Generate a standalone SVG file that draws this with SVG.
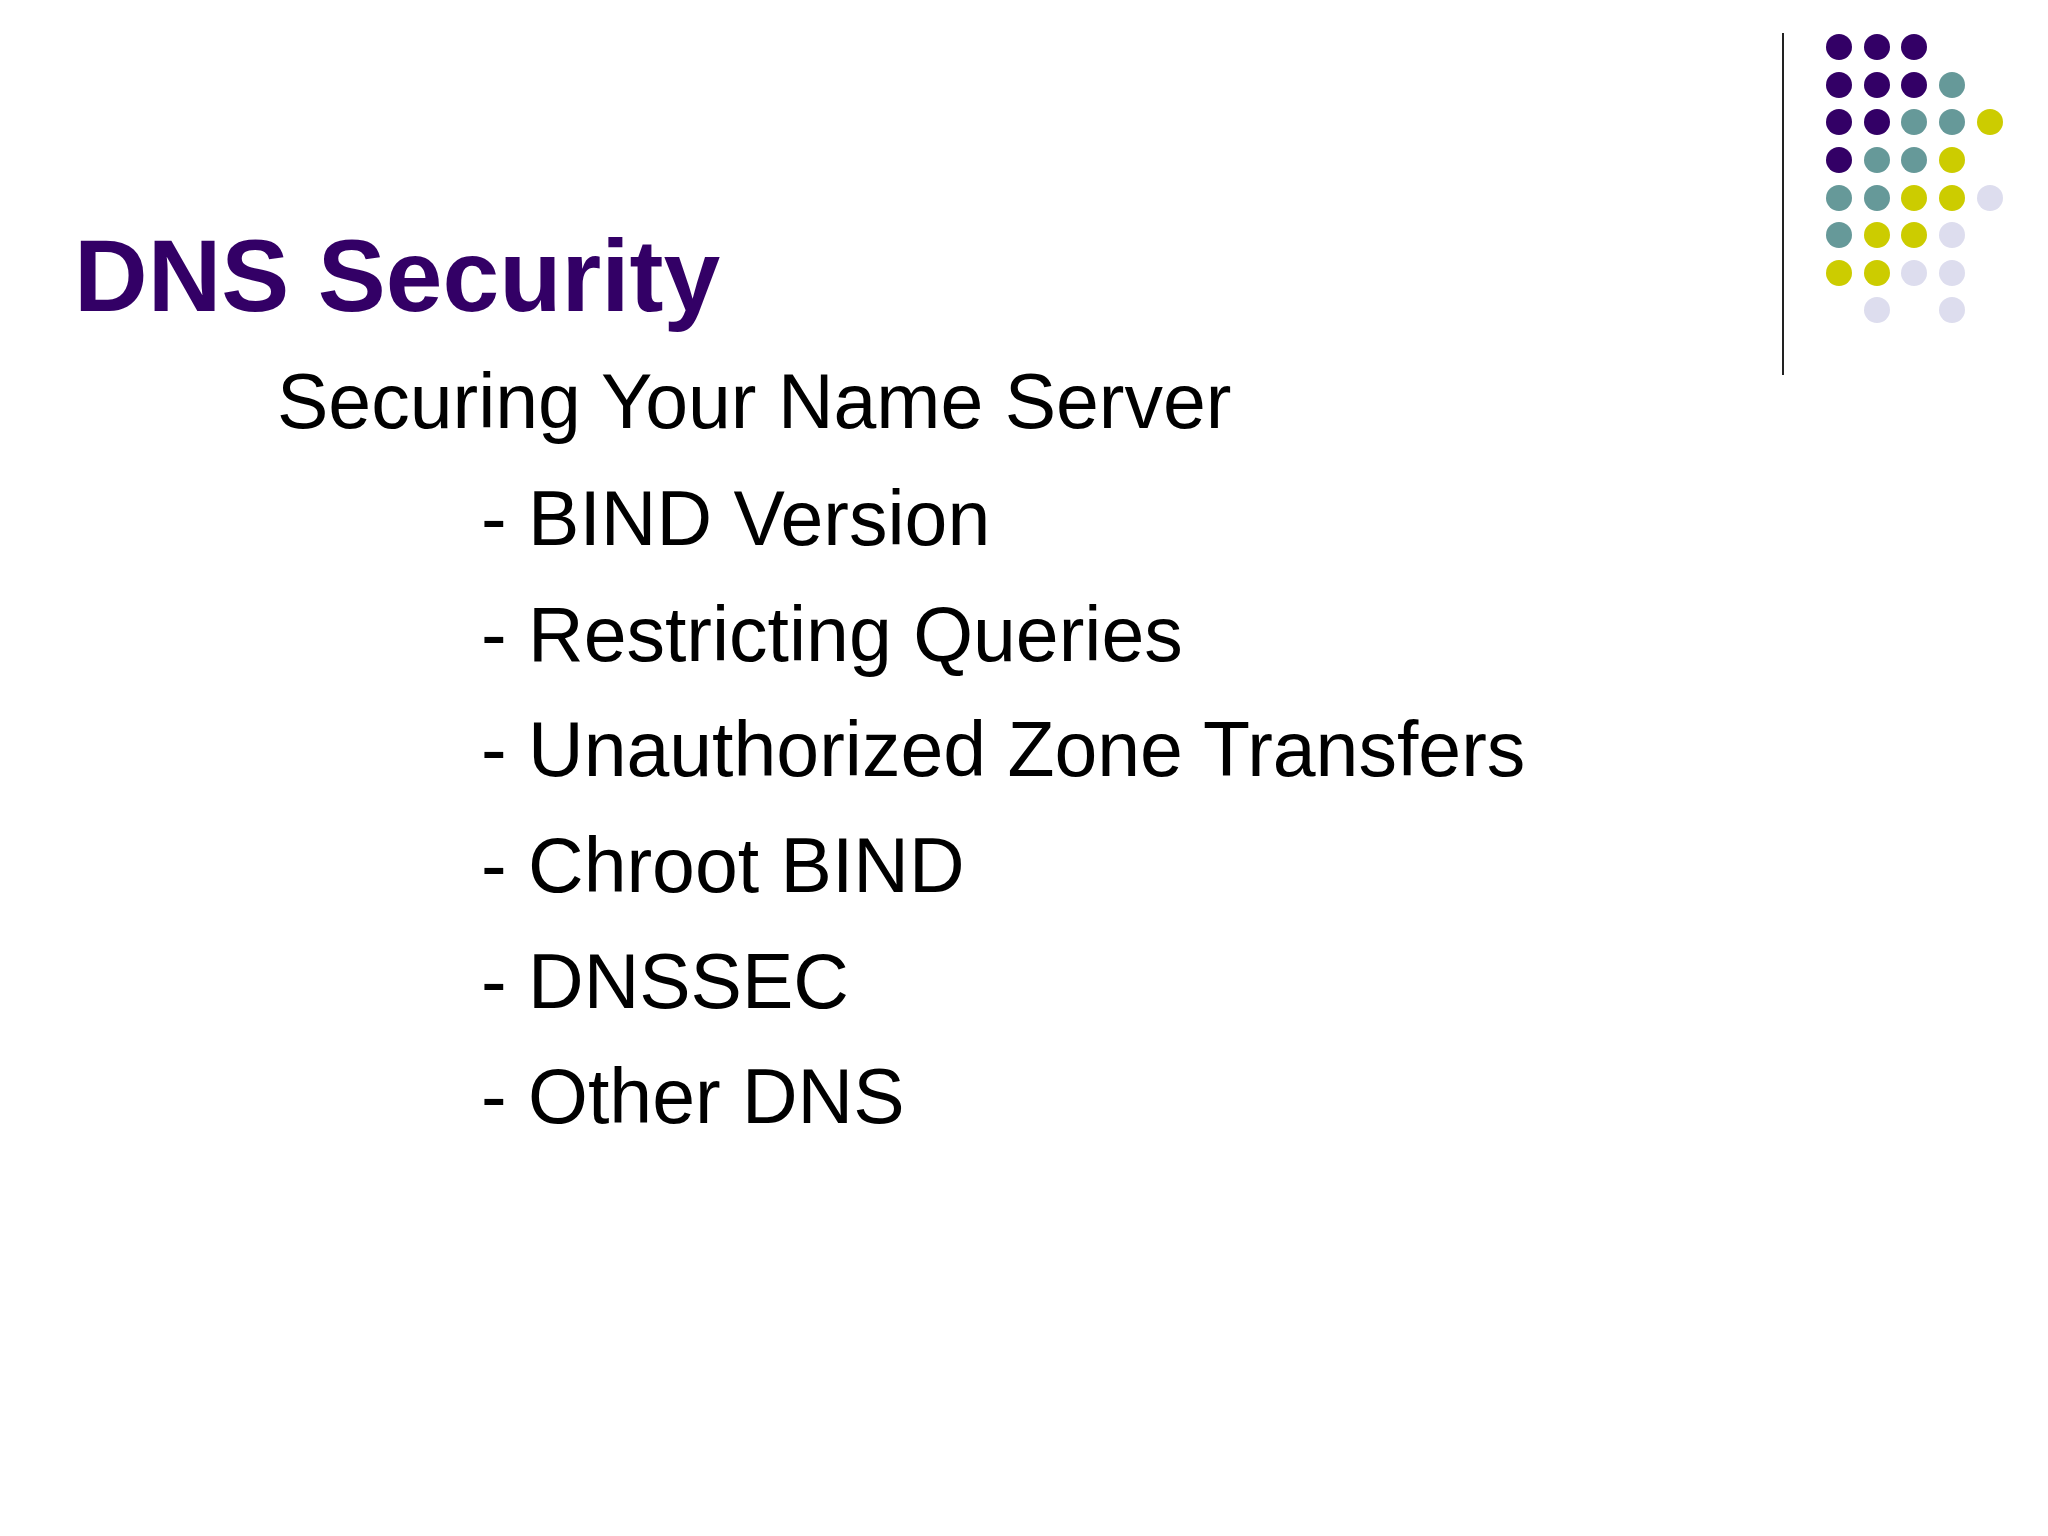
<svg xmlns="http://www.w3.org/2000/svg" width="2048" height="1536" viewBox="0 0 2048 1536">
<style>
.t{font-family:"Liberation Sans",Arial,sans-serif;font-size:77px;fill:#000}
.p{fill:#330066}.g{fill:#669999}.y{fill:#cccc00}.l{fill:#ddddee}
</style>
<rect width="2048" height="1536" fill="#fff"/>
<line x1="1783" y1="33" x2="1783" y2="375" stroke="#222" stroke-width="2"/>
<g id="dots">
<circle class="p" cx="1839" cy="47" r="13"/><circle class="p" cx="1877" cy="47" r="13"/><circle class="p" cx="1914" cy="47" r="13"/>
<circle class="p" cx="1839" cy="85" r="13"/><circle class="p" cx="1877" cy="85" r="13"/><circle class="p" cx="1914" cy="85" r="13"/><circle class="g" cx="1952" cy="85" r="13"/>
<circle class="p" cx="1839" cy="122" r="13"/><circle class="p" cx="1877" cy="122" r="13"/><circle class="g" cx="1914" cy="122" r="13"/><circle class="g" cx="1952" cy="122" r="13"/><circle class="y" cx="1990" cy="122" r="13"/>
<circle class="p" cx="1839" cy="160" r="13"/><circle class="g" cx="1877" cy="160" r="13"/><circle class="g" cx="1914" cy="160" r="13"/><circle class="y" cx="1952" cy="160" r="13"/>
<circle class="g" cx="1839" cy="198" r="13"/><circle class="g" cx="1877" cy="198" r="13"/><circle class="y" cx="1914" cy="198" r="13"/><circle class="y" cx="1952" cy="198" r="13"/><circle class="l" cx="1990" cy="198" r="13"/>
<circle class="g" cx="1839" cy="235" r="13"/><circle class="y" cx="1877" cy="235" r="13"/><circle class="y" cx="1914" cy="235" r="13"/><circle class="l" cx="1952" cy="235" r="13"/>
<circle class="y" cx="1839" cy="273" r="13"/><circle class="y" cx="1877" cy="273" r="13"/><circle class="l" cx="1914" cy="273" r="13"/><circle class="l" cx="1952" cy="273" r="13"/>
<circle class="l" cx="1877" cy="310" r="13"/><circle class="l" cx="1952" cy="310" r="13"/>
</g>
<text x="74" y="311" font-family="Liberation Sans,Arial,sans-serif" font-weight="bold" font-size="102" fill="#330066">DNS Security</text>
<text class="t" x="277" y="428">Securing Your Name Server</text>
<text class="t" x="481" y="545">- BIND Version</text>
<text class="t" x="481" y="661">- Restricting Queries</text>
<text class="t" x="481" y="776">- Unauthorized Zone Transfers</text>
<text class="t" x="481" y="892">- Chroot BIND</text>
<text class="t" x="481" y="1008">- DNSSEC</text>
<text class="t" x="481" y="1123">- Other DNS</text>
</svg>
